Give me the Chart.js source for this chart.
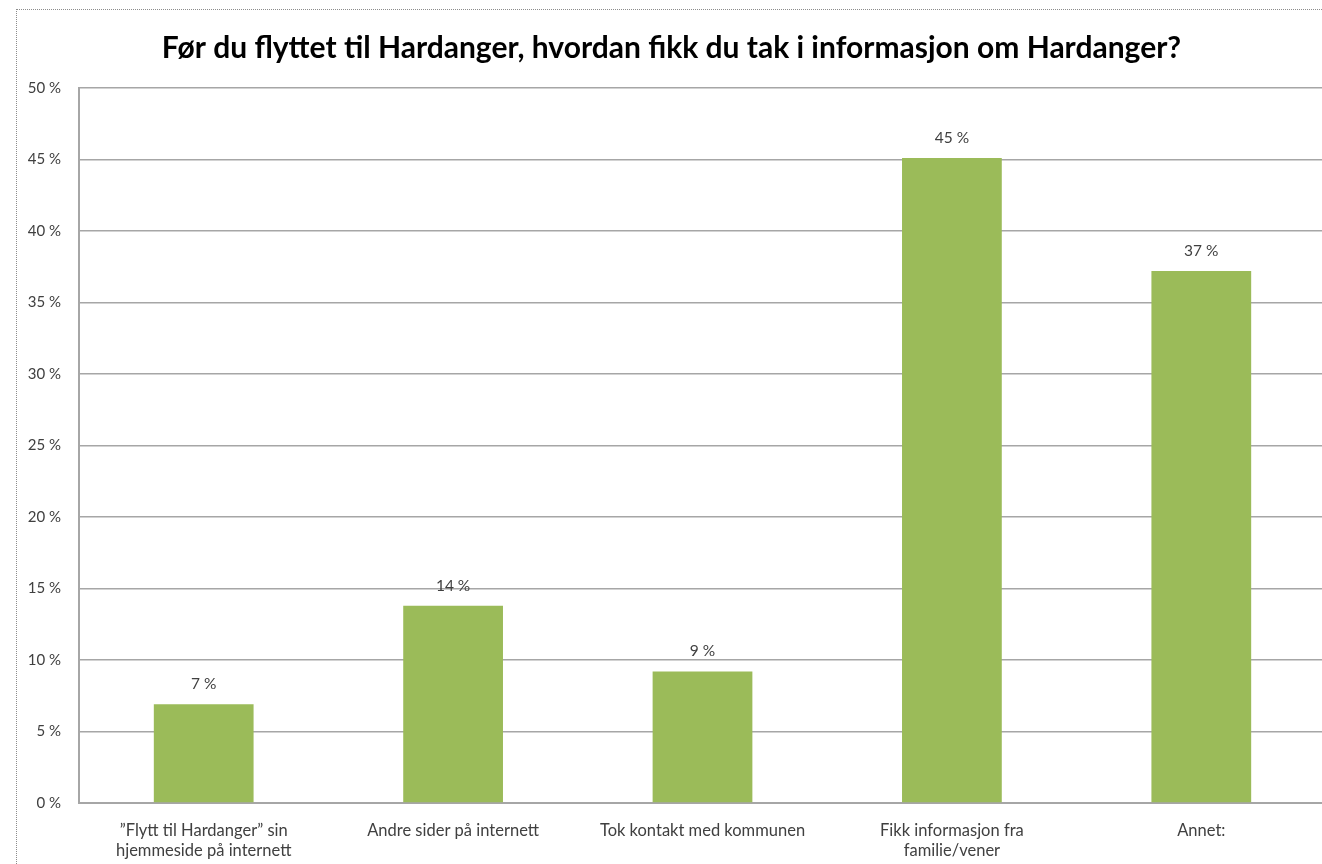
<!DOCTYPE html>
<html lang="no">
<head>
  <meta charset="UTF-8">
  <title>Før du flyttet til Hardanger</title>
  <script src="https://cdn.jsdelivr.net/npm/chart.js"></script>
  <style>
    body { margin: 0; background: #fff; overflow: hidden; }
    #frame {
      position: absolute; left: 16px; top: 9px; width: 1310px; height: 855px;
      border-left: 1px dotted #8c8c8c; border-top: 1px dotted #8c8c8c;
      box-sizing: border-box;
    }
  </style>
</head>
<body>
<div id="frame"><canvas id="chart"></canvas></div>

<script>
  // categories and values (percent)
  const categories = [
      ['\u201DFlytt til Hardanger\u201D sin', 'hjemmeside på internett'],
      'Andre sider på internett',
      'Tok kontakt med kommunen',
      ['Fikk informasjon fra', 'familie/vener'],
      'Annet:'
  ];
  const shares = [6.9, 13.8, 9.2, 45.1, 37.2];
  const yTicks = [0, 5, 10, 15, 20, 25, 30, 35, 40, 45, 50];

  const fontFamily = 'Lato, "Open Sans", sans-serif';
  const textColor = '#404040';
  const gridColor = '#a6a6a6';

  // value labels above each bar
  const barLabels = {
      id: 'barLabels',
      afterDatasetsDraw(chart) {
          const ctx = chart.ctx;
          const meta = chart.getDatasetMeta(0);
          ctx.save();
          ctx.font = '15.5px ' + fontFamily;
          ctx.fillStyle = textColor;
          ctx.textAlign = 'center';
          ctx.textBaseline = 'middle';
          meta.data.forEach((bar, i) => {
              ctx.fillText(Math.round(shares[i]) + ' %', bar.x, bar.y - 20);
          });
          ctx.restore();
      }
  };

  new Chart(document.getElementById('chart'), {
      type: 'bar',
      data: {
          labels: categories,
          datasets: [{
              data: shares,
              backgroundColor: '#9bbb59',
              barPercentage: 0.4,
              categoryPercentage: 1
          }]
      },
      options: {
          responsive: true,
          maintainAspectRatio: false,
          animation: false,
          layout: { padding: 0 },
          plugins: {
              legend: { display: false },
              tooltip: { enabled: false },
              title: {
                  display: true,
                  text: 'Før du flyttet til Hardanger, hvordan fikk du tak i informasjon om Hardanger?',
                  color: '#000',
                  font: { family: fontFamily, size: 30, weight: 'bold' },
                  padding: { top: 20, bottom: 22 }
              }
          },
          scales: {
              x: {
                  grid: { display: false },
                  border: { color: gridColor, width: 2 },
                  ticks: {
                      color: textColor,
                      font: { family: fontFamily, size: 16.5 },
                      maxRotation: 0,
                      padding: 10
                  },
                  afterFit(scale) { scale.height = 61; }
              },
              y: {
                  min: 0,
                  max: 50,
                  afterBuildTicks(scale) { scale.ticks = yTicks.map(v => ({ value: v })); },
                  grid: { color: gridColor, lineWidth: 1.5, drawTicks: false },
                  border: { color: gridColor, width: 2 },
                  ticks: {
                      color: textColor,
                      font: { family: fontFamily, size: 15 },
                      padding: 18,
                      callback: v => v + ' %'
                  },
                  afterFit(scale) { scale.width = 62; }
              }
          }
      },
      plugins: [barLabels]
  });
</script>
</body>
</html>
